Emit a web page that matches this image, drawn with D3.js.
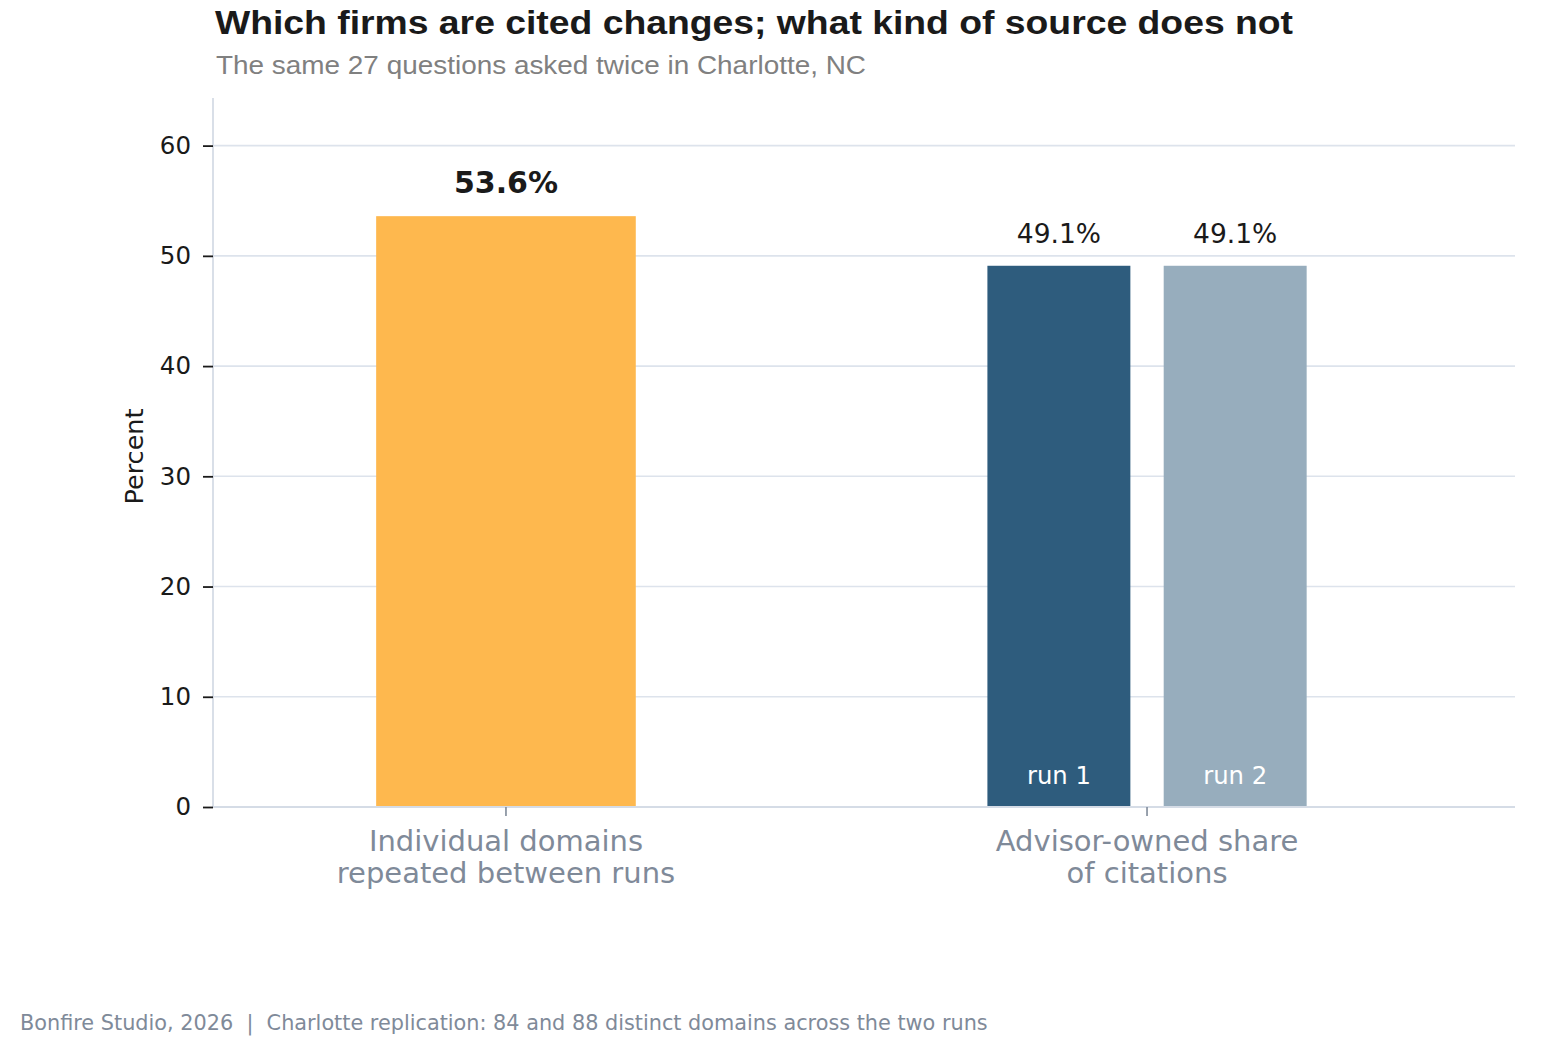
<!DOCTYPE html>
<html>
<head>
<meta charset="utf-8">
<script src="https://cdn.jsdelivr.net/npm/d3@7"></script>
<style>
  body { margin: 0; background: #fff; }
</style>
</head>
<body>
<div id="chart"></div>
<script>
// chart data
const categories = ["Individual domains\nrepeated between runs", "Advisor-owned share\nof citations"];
const repeatedValue = [53.6];
const runLabels = ["run 1", "run 2"];
const advisorValues = [49.1, 49.1];
const yTicks = [0, 10, 20, 30, 40, 50, 60];

(function() {
const W = 1562, H = 1054;
const mLeft = 213, mRight = 1515, mTop = 98, mBottom = 807;
const dejavu = '"DejaVu Sans", sans-serif';
const arial = '"Liberation Sans", Arial, sans-serif';

const svg = d3.select('#chart').append('svg')
  .attr('width', W)
  .attr('height', H)
  .attr('font-family', dejavu);

const x = d3.scaleLinear().domain([-0.457, 1.574]).range([mLeft, mRight]);
const y = d3.scaleLinear().domain([0, 64.32]).range([mBottom, mTop]);

// gridlines
svg.append('g')
  .selectAll('line')
  .data(yTicks)
  .enter()
  .append('line')
    .attr('x1', mLeft).attr('x2', mRight)
    .attr('y1', d => y(d)).attr('y2', d => y(d))
    .attr('stroke', '#dde3ec')
    .attr('stroke-width', 1.6);

// bar for first category
const w1 = 0.405;
svg.append('rect')
  .attr('x', x(0 - w1 / 2))
  .attr('y', y(repeatedValue[0]))
  .attr('width', x(w1) - x(0))
  .attr('height', y(0) - y(repeatedValue[0]))
  .attr('fill', '#feb84e');

svg.append('text')
  .attr('x', x(0))
  .attr('y', y(repeatedValue[0]) - 23)
  .attr('text-anchor', 'middle')
  .attr('font-size', 30)
  .attr('font-weight', 'bold')
  .attr('fill', '#1a1a1a')
  .text(repeatedValue[0].toFixed(1) + '%');

// paired run bars
const w2 = 0.223;
const offsets = [-0.1375, 0.1375];
const runColors = ['#2e5c7d', '#97adbd'];

const runs = svg.append('g').selectAll('g')
  .data(advisorValues)
  .enter()
  .append('g');

runs.append('rect')
  .attr('x', (d, i) => x(1 + offsets[i] - w2 / 2))
  .attr('y', d => y(d))
  .attr('width', x(w2) - x(0))
  .attr('height', d => y(0) - y(d))
  .attr('fill', (d, i) => runColors[i]);

runs.append('text')
  .attr('x', (d, i) => x(1 + offsets[i]))
  .attr('y', d => y(d) - 22.5)
  .attr('text-anchor', 'middle')
  .attr('font-size', 26.5)
  .attr('fill', '#1a1a1a')
  .text(d => d.toFixed(1) + '%');

runs.append('text')
  .attr('x', (d, i) => x(1 + offsets[i]))
  .attr('y', mBottom - 23)
  .attr('text-anchor', 'middle')
  .attr('font-size', 24.3)
  .attr('fill', '#ffffff')
  .text((d, i) => runLabels[i]);

// spines
svg.append('line')
  .attr('x1', mLeft).attr('x2', mLeft).attr('y1', mTop).attr('y2', mBottom)
  .attr('stroke', '#d5dce6').attr('stroke-width', 1.8);
svg.append('line')
  .attr('x1', mLeft).attr('x2', mRight).attr('y1', mBottom).attr('y2', mBottom)
  .attr('stroke', '#d5dce6').attr('stroke-width', 1.8);

// y axis
const yAxis = svg.append('g')
  .attr('transform', `translate(${mLeft},0)`)
  .call(d3.axisLeft(y).tickValues(yTicks).tickSize(10).tickPadding(12));
yAxis.select('.domain').remove();
yAxis.selectAll('.tick line').attr('stroke', '#1a1a1a').attr('stroke-width', 1.8);
yAxis.selectAll('.tick text')
  .attr('font-size', 24.5)
  .attr('font-family', dejavu)
  .attr('fill', '#1a1a1a');

svg.append('text')
  .attr('transform', `translate(143,${(mTop + mBottom) / 2 + 4}) rotate(-90)`)
  .attr('text-anchor', 'middle')
  .attr('font-size', 25.5)
  .attr('fill', '#1a1a1a')
  .text('Percent');

// x axis ticks + category labels
const xcat = svg.append('g').selectAll('g')
  .data(categories)
  .enter()
  .append('g')
    .attr('transform', (d, i) => `translate(${x(i)},${mBottom})`);

xcat.append('line')
  .attr('y1', 0).attr('y2', 9)
  .attr('stroke', '#7f8a99').attr('stroke-width', 1.6);

xcat.append('text')
  .attr('text-anchor', 'middle')
  .attr('font-size', 29)
  .attr('fill', '#7f8a99')
  .selectAll('tspan')
  .data(d => d.split('\n'))
  .enter()
  .append('tspan')
    .attr('x', 0)
    .attr('y', (d, i) => 44 + i * 32)
    .text(d => d);

// title block
svg.append('text')
  .attr('x', 215).attr('y', 33.5)
  .attr('font-family', arial)
  .attr('font-size', 32.5)
  .attr('font-weight', 'bold')
  .attr('fill', '#1a1a1a')
  .attr('textLength', 1078)
  .attr('lengthAdjust', 'spacingAndGlyphs')
  .text('Which firms are cited changes; what kind of source does not');

svg.append('text')
  .attr('x', 216).attr('y', 74)
  .attr('font-family', arial)
  .attr('font-size', 26)
  .attr('fill', '#808080')
  .attr('textLength', 650)
  .attr('lengthAdjust', 'spacingAndGlyphs')
  .text('The same 27 questions asked twice in Charlotte, NC');

svg.append('text')
  .attr('x', 20).attr('y', 1030)
  .attr('font-size', 20.8)
  .attr('fill', '#7f8a99')
  .style('white-space', 'pre')
  .text('Bonfire Studio, 2026  |  Charlotte replication: 84 and 88 distinct domains across the two runs');
})();
</script>
</body>
</html>
